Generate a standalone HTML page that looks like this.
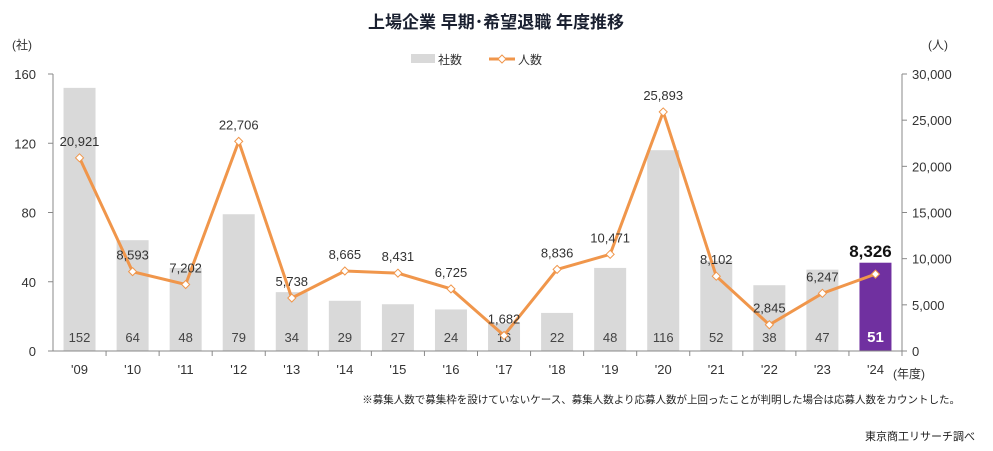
<!DOCTYPE html>
<html><head><meta charset="utf-8"><style>
body{margin:0;background:#fff;}
svg{display:block;font-family:"Liberation Sans","Noto Sans CJK JP",sans-serif;}
</style></head><body>
<svg id="c" width="993" height="451">
<text x="496" y="28" text-anchor="middle" font-size="17" font-weight="bold" fill="#1a2030">上場企業 早期･希望退職 年度推移</text>
<text x="12" y="49" font-size="12" fill="#333">(社)</text>
<text x="928" y="49" font-size="12" fill="#333">(人)</text>
<g>
<rect x="411" y="54" width="24" height="9" fill="#d9d9d9"/>
<text x="438" y="64" font-size="12" fill="#333">社数</text>
<line x1="489" y1="59" x2="515" y2="59" stroke="#f0964b" stroke-width="3"/>
<path d="M502 55 L506 59 L502 63 L498 59Z" fill="#fff" stroke="#f0964b"/>
<text x="518" y="64" font-size="12" fill="#333">人数</text>
</g>
<text x="893" y="378" font-size="12" fill="#333">(年度)</text>
<text x="960" y="403" text-anchor="end" font-size="10.5" fill="#222">※募集人数で募集枠を設けていないケース、募集人数より応募人数が上回ったことが判明した場合は応募人数をカウントした。</text>
<text x="975" y="440" text-anchor="end" font-size="11" fill="#222">東京商工リサーチ調べ</text>
<g id="plot"></g>
</svg>
<script>
const categories=["'09","'10","'11","'12","'13","'14","'15","'16","'17","'18","'19","'20","'21","'22","'23","'24"];
const companies=[152,64,48,79,34,29,27,24,16,22,48,116,52,38,47,51];
const people=[20921,8593,7202,22706,5738,8665,8431,6725,1682,8836,10471,25893,8102,2845,6247,8326];
const leftTicks=[0,40,80,120,160];
const rightTicks=[0,5000,10000,15000,20000,25000,30000];
const NS="http://www.w3.org/2000/svg";
const g=document.getElementById('plot');
const X0=53,X1=902,Y0=351,Y1=74;
const band=(X1-X0)/categories.length;
const xc=i=>X0+band*(i+0.5);
const yl=v=>Y0-(v/160)*(Y0-Y1);
const yr=v=>Y0-(v/30000)*(Y0-Y1);
function el(t,a,txt){const e=document.createElementNS(NS,t);for(const k in a)e.setAttribute(k,a[k]);if(txt!==undefined)e.textContent=txt;g.appendChild(e);return e;}
const fmt=v=>v.toLocaleString('en-US');
let e=el('line',{x1:X0,y1:Y1,x2:X0,y2:Y0,stroke:'#888'});

e=el('line',{x1:X1,y1:Y1,x2:X1,y2:Y0,stroke:'#888'});

leftTicks.forEach(v=>{
 const t=el('line',{x1:X0-5,y1:yl(v),x2:X0,y2:yl(v),stroke:'#888'});
 
 const l=el('text',{x:X0-17,y:yl(v)+5,'text-anchor':'end','font-size':13,fill:'#333'},v);
 
});
rightTicks.forEach(v=>{
 const t=el('line',{x1:X1,y1:yr(v),x2:X1+5,y2:yr(v),stroke:'#888'});
 
 const l=el('text',{x:X1+10,y:yr(v)+5,'font-size':13,fill:'#333'},fmt(v));
 
});
companies.forEach((v,i)=>{
 const last=i===companies.length-1;
 const r=el('rect',{x:xc(i)-16,y:yl(v),width:32,height:Y0-yl(v),fill:last?'#7030a0':'#d9d9d9'});
 
 const t=el('text',{x:xc(i),y:342,'text-anchor':'middle','font-size':last?15:13,'font-weight':last?'bold':'normal',fill:last?'#fff':'#444'},v);
 
});
e=el('line',{x1:X0,y1:Y0,x2:X1,y2:Y0,stroke:'#888'});

categories.forEach((c,i)=>{
 const t=el('line',{x1:X0+band*(i+1),y1:Y0,x2:X0+band*(i+1),y2:Y0+5,stroke:'#888'});
 
 const l=el('text',{x:xc(i),y:374,'text-anchor':'middle','font-size':13,fill:'#333'},c);
 
});
const pl=el('polyline',{points:people.map((v,i)=>xc(i)+','+yr(v)).join(' '),fill:'none',stroke:'#f0964b','stroke-width':3});

people.forEach((v,i)=>{
 const x=xc(i),y=yr(v);
 const m=el('path',{d:`M${x} ${y-4}L${x+4} ${y}L${x} ${y+4}L${x-4} ${y}Z`,fill:'#fff',stroke:'#f0964b'});
 
 const last=i===people.length-1;
 const l=el('text',{x:x-(last?5:0),y:y-(last?17:12),'text-anchor':'middle','font-size':last?17:13,'font-weight':last?'bold':'normal',fill:last?'#111':'#333'},fmt(v));
 
});
</script>
</body></html>
